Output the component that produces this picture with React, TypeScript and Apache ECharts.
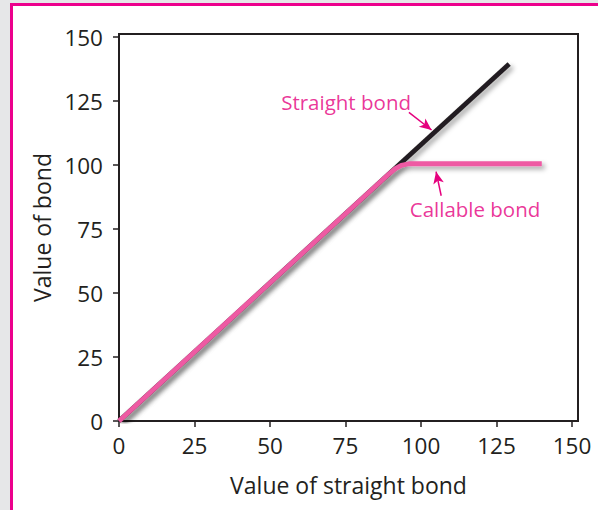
import React, { useEffect, useRef } from "react";
import * as echarts from "echarts";

// ---- data ----
const xTickValues = [0, 25, 50, 75, 100, 125, 150];
const yTickValues = [0, 25, 50, 75, 100, 125, 150];
const straightBond: number[][] = [
  [0, 0],
  [129.2, 139.5],
];
const callableBond: number[][] = [
  [0, 0],
  [89, 96.1],
  [91.5, 98.6],
  [93.5, 99.9],
  [96, 100.5],
  [140, 100.5],
];
const annotationLabels = ["Straight bond", "Callable bond"];
const annotationAnchors: number[][] = [
  [75.2, 124.6],
  [117.9, 82.8],
];
const arrowFrom: number[][] = [
  [96, 120.6],
  [106.7, 88],
];
const arrowTo: number[][] = [
  [103.5, 113.7],
  [105, 97.4],
];
const xAxisName = "Value of straight bond";
const yAxisName = "Value of bond";

const INK = "#231F20";
const PINK_LINE = "#EE5AA3";
const MAGENTA = "#E5007E";
const FONT = "Open Sans";

export default function App() {
  const ref = useRef<HTMLDivElement>(null);
  useEffect(() => {
    document.body.style.margin = "0";
    if (!ref.current) return;
    const chart = echarts.init(ref.current, undefined, { renderer: "svg" });
    const shadow = {
      shadowColor: "rgba(0,0,0,0.35)",
      shadowBlur: 5,
      shadowOffsetX: 3,
      shadowOffsetY: 3,
    };
    chart.setOption({
      animation: false,
      grid: {
        left: 119,
        top: 34,
        right: 20,
        bottom: 89,
        show: true,
        borderColor: INK,
        borderWidth: 2,
        backgroundColor: "#ffffff",
      },
      xAxis: {
        type: "value",
        min: 0,
        max: 152,
        name: xAxisName,
        nameLocation: "middle",
        nameGap: 52,
        nameTextStyle: { fontFamily: FONT, fontSize: 23, color: INK },
        axisLine: { show: true, lineStyle: { color: INK, width: 2 } },
        axisTick: {
          show: true,
          length: 6,
          customValues: xTickValues,
          lineStyle: { color: INK, width: 1.5 },
        },
        axisLabel: {
          customValues: xTickValues,
          margin: 13,
          fontFamily: FONT,
          fontSize: 22.5,
          color: INK,
        },
        splitLine: { show: false },
      },
      yAxis: {
        type: "value",
        min: 0,
        max: 151.2,
        name: yAxisName,
        nameLocation: "middle",
        nameGap: 63,
        nameRotate: 90,
        nameTextStyle: { fontFamily: FONT, fontSize: 23, color: INK },
        axisLine: { show: true, lineStyle: { color: INK, width: 2 } },
        axisTick: {
          show: true,
          length: 6,
          customValues: yTickValues,
          lineStyle: { color: INK, width: 1.5 },
        },
        axisLabel: {
          customValues: yTickValues,
          margin: 16,
          fontFamily: FONT,
          fontSize: 22.5,
          color: INK,
        },
        splitLine: { show: false },
      },
      series: [
        {
          name: "Straight bond",
          type: "line",
          data: straightBond,
          symbol: "none",
          lineStyle: { color: INK, width: 4.8, cap: "butt", ...shadow },
          z: 2,
        },
        {
          name: "Callable bond",
          type: "line",
          data: callableBond,
          symbol: "none",
          lineStyle: { color: PINK_LINE, width: 4.8, join: "round", cap: "butt", ...shadow },
          z: 3,
        },
        {
          name: "annotations",
          type: "scatter",
          data: annotationAnchors.map((p, i) => [p[0], p[1], annotationLabels[i]]),
          symbol: "circle",
          symbolSize: 1,
          itemStyle: { color: "rgba(0,0,0,0)" },
          label: {
            show: true,
            position: "inside",
            formatter: (p: any) => p.value[2],
            fontFamily: FONT,
            fontSize: 20.5,
            color: MAGENTA,
          },
          markLine: {
            silent: true,
            symbol: ["none", "arrow"],
            symbolSize: [8, 12],
            label: { show: false },
            lineStyle: { color: MAGENTA, width: 1.5, type: "solid" },
            data: arrowFrom.map((f, i) => [{ coord: f }, { coord: arrowTo[i] }]),
          },
          z: 4,
        },
      ],
    });
    return () => chart.dispose();
  }, []);

  return (
    <div
      style={{
        position: "relative",
        width: 598,
        height: 510,
        background: "#E6E7E8",
        overflow: "hidden",
      }}
    >
      <div
        style={{
          position: "absolute",
          left: 10,
          top: 3,
          width: 598,
          height: 510,
          borderLeft: "3px solid #EC008C",
          borderTop: "3px solid #EC008C",
          background: "#ffffff",
        }}
      />
      <div
        ref={ref}
        style={{ position: "absolute", left: 0, top: 0, width: 598, height: 510 }}
      />
    </div>
  );
}
